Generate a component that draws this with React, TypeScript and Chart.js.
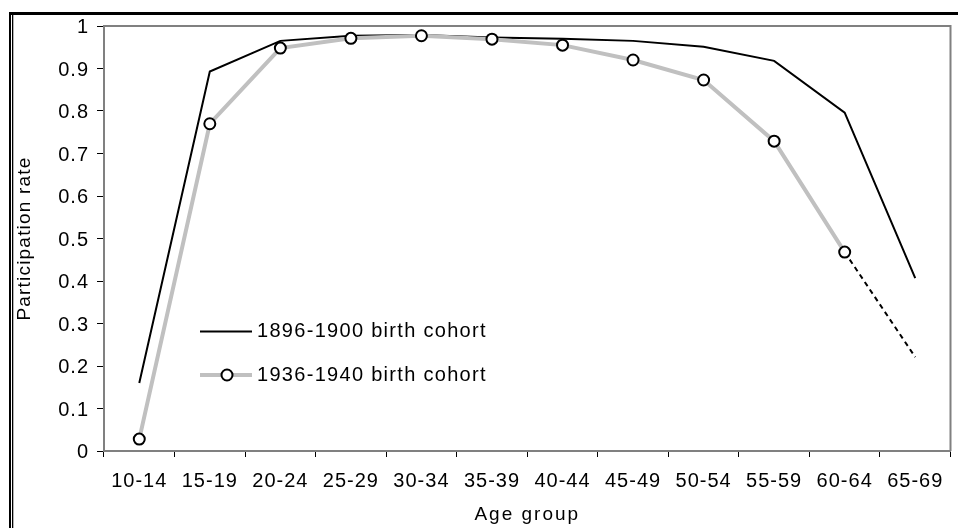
import React, { useEffect, useRef } from "react";
import { Chart, registerables } from "chart.js";

Chart.register(...registerables);

const ageGroups = ["10-14", "15-19", "20-24", "25-29", "30-34", "35-39", "40-44", "45-49", "50-54", "55-59", "60-64", "65-69"];
const cohort1896 = [0.16, 0.893, 0.965, 0.977, 0.979, 0.973, 0.97, 0.965, 0.951, 0.918, 0.796, 0.407];
const cohort1936 = [0.028, 0.77, 0.948, 0.971, 0.977, 0.969, 0.955, 0.92, 0.873, 0.729, 0.468, null];
const cohort1936Projected = [null, null, null, null, null, null, null, null, null, null, 0.468, 0.221];
const yTickLabels = ["0", "0.1", "0.2", "0.3", "0.4", "0.5", "0.6", "0.7", "0.8", "0.9", "1"];
const legendLabels = ["1896-1900 birth cohort", "1936-1940 birth cohort"];

const FONT = "'Liberation Sans', Arial, sans-serif";

function wrapSpacing(chart: any, scale: any, method: string, spacing: string) {
  const key = "__wrapped_" + method;
  if (scale[key]) return;
  const orig = scale[method].bind(scale);
  scale[method] = (...args: any[]) => {
    const ctx = chart.ctx;
    const prev = ctx.letterSpacing;
    ctx.letterSpacing = spacing;
    orig(...args);
    ctx.letterSpacing = prev;
  };
  scale[key] = true;
}

const decorPlugin = {
  id: "decor",
  beforeLayout(chart: any) {
    chart.ctx.letterSpacing = "1px";
  },
  afterLayout(chart: any) {
    const sx = chart.scales.x;
    const sy = chart.scales.y;
    wrapSpacing(chart, sx, "drawTitle", "2px");
    wrapSpacing(chart, sy, "drawTitle", "1.2px");
    wrapSpacing(chart, sx, "drawLabels", "1px");
    wrapSpacing(chart, sy, "drawLabels", "1px");
  },
  beforeDraw(chart: any) {
    const ctx = chart.ctx;
    ctx.letterSpacing = "1px";
    ctx.save();
    ctx.fillStyle = "#000";
    ctx.fillRect(9, 12, 949, 3);
    ctx.fillRect(9, 12, 2, 516);
    ctx.fillRect(12, 12, 1.3, 516);
    ctx.restore();
  },
  afterDatasetsDraw(chart: any) {
    const ctx = chart.ctx;
    const { left, top, right, bottom } = chart.chartArea;
    ctx.save();
    ctx.strokeStyle = "#808080";
    ctx.lineWidth = 2;
    ctx.beginPath();
    ctx.moveTo(left, top);
    ctx.lineTo(right, top);
    ctx.lineTo(right, bottom);
    ctx.stroke();

    // legend
    ctx.letterSpacing = "1.3px";
    ctx.font = `20px ${FONT}`;
    ctx.fillStyle = "#000";
    ctx.textBaseline = "middle";
    ctx.textAlign = "left";
    const y1 = 331.5;
    const y2 = 375;
    ctx.strokeStyle = "#000";
    ctx.lineWidth = 2;
    ctx.beginPath();
    ctx.moveTo(200, y1);
    ctx.lineTo(252, y1);
    ctx.stroke();
    ctx.fillText(legendLabels[0], 257, y1);
    ctx.strokeStyle = "#c0c0c0";
    ctx.lineWidth = 4;
    ctx.beginPath();
    ctx.moveTo(200, y2);
    ctx.lineTo(252, y2);
    ctx.stroke();
    ctx.beginPath();
    ctx.arc(227, y2, 5.5, 0, Math.PI * 2);
    ctx.fillStyle = "#fff";
    ctx.fill();
    ctx.strokeStyle = "#000";
    ctx.lineWidth = 2;
    ctx.stroke();
    ctx.fillStyle = "#000";
    ctx.fillText(legendLabels[1], 257, y2);
    ctx.restore();
  },
};

export default function App() {
  const ref = useRef<HTMLCanvasElement>(null);
  useEffect(() => {
    if (!ref.current) return;
    const chart = new Chart(ref.current, {
      type: "line",
      data: {
        labels: ageGroups,
        datasets: [
          {
            label: legendLabels[1],
            data: cohort1936,
            borderColor: "#c0c0c0",
            borderWidth: 4,
            pointRadius: 5.5,
            pointBorderWidth: 2,
            pointBackgroundColor: "#fff",
            pointBorderColor: "#000",
            tension: 0,
            order: 0,
          },
          {
            label: "projected",
            data: cohort1936Projected,
            borderColor: "#000",
            borderWidth: 2,
            borderDash: [5, 4],
            pointRadius: 0,
            tension: 0,
            order: 1,
          },
          {
            label: legendLabels[0],
            data: cohort1896,
            borderColor: "#000",
            borderWidth: 2,
            pointRadius: 0,
            tension: 0,
            order: 2,
          },
        ],
      },
      options: {
        animation: false,
        responsive: false,
        layout: { padding: { top: 26, right: 5, left: 0, bottom: 0 } },
        plugins: { legend: { display: false }, tooltip: { enabled: false } },
        scales: {
          x: {
            type: "category",
            offset: true,
            grid: { display: true, offset: true, drawOnChartArea: false, drawTicks: true, tickLength: 6, color: "#000" },
            border: { display: true, color: "#808080", width: 2 },
            ticks: { color: "#000", font: { family: FONT, size: 20 }, padding: 12.3, maxRotation: 0, autoSkip: false },
            title: { display: true, text: "Age group", color: "#000", font: { family: FONT, size: 19 }, padding: { top: 0, bottom: 1.5 } },
            afterFit(scale: any) {
              scale.height = 77;
            },
          },
          y: {
            min: 0,
            max: 1,
            grid: { display: true, drawOnChartArea: false, drawTicks: true, tickLength: 7, color: "#000" },
            border: { display: true, color: "#808080", width: 2 },
            ticks: {
              stepSize: 0.1,
              color: "#000",
              font: { family: FONT, size: 20 },
              padding: 8,
              labelOffset: 1.5,
              callback: (_v: any, i: number) => yTickLabels[i],
            },
            title: { display: true, text: "Participation rate", color: "#000", font: { family: FONT, size: 19 }, padding: { top: 13, bottom: 0 } },
            afterFit(scale: any) {
              scale.width = 104;
            },
          },
        },
      },
      plugins: [decorPlugin],
    });
    return () => chart.destroy();
  }, []);
  return (
    <div style={{ position: "absolute", left: 0, top: 0, width: 958, height: 528, background: "#fff" }}>
      <canvas ref={ref} width={958} height={528} />
    </div>
  );
}
